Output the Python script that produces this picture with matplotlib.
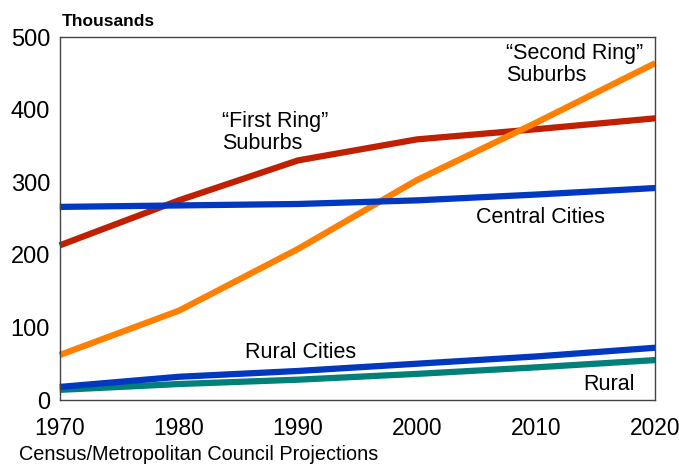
import matplotlib.pyplot as plt

plt.rcParams['font.family'] = ['Liberation Sans', 'DejaVu Sans']

years = [1970, 1980, 1990, 2000, 2010, 2020]
first_ring = [213, 275, 330, 359, 373, 388]
second_ring = [62, 123, 208, 303, 382, 464]
central_cities = [266, 268, 270, 275, 283, 292]
rural_cities = [18, 32, 40, 50, 60, 72]
rural = [14, 22, 28, 36, 45, 55]

fig = plt.figure(figsize=(6.79, 4.66), dpi=100)
ax = fig.add_axes([0.088, 0.1416, 0.877, 0.779])

lw = 4.5
ax.plot(years, first_ring, color='#C02000', lw=lw, clip_on=False, solid_capstyle='butt')
ax.plot(years, second_ring, color='#FF8000', lw=lw, clip_on=False, solid_capstyle='butt')
ax.plot(years, central_cities, color='#0038C0', lw=lw, clip_on=False, solid_capstyle='butt')
ax.plot(years, rural, color='#008078', lw=lw, clip_on=False, solid_capstyle='butt')
ax.plot(years, rural_cities, color='#0038C0', lw=lw, clip_on=False, solid_capstyle='butt')

ax.set_xlim(1970, 2020)
ax.set_ylim(0, 500)
ax.set_xticks(years)
ax.set_yticks([0, 100, 200, 300, 400, 500])
ax.tick_params(length=0, labelsize=17, pad=7)
ax.tick_params(axis='x', pad=12, labelsize=16.4)
for s in ax.spines.values():
    s.set_color('#444444')
    s.set_linewidth(1)

ts = 15.5
ax.text(1983.6, 369, '\u201cFirst Ring\u201d\nSuburbs', fontsize=ts, va='center', ha='left', multialignment='left', linespacing=1.05)
ax.text(2007.5, 462, '\u201cSecond Ring\u201d\nSuburbs', fontsize=ts, va='center', ha='left', multialignment='left', linespacing=1.05)
ax.text(2010.4, 252, 'Central Cities', fontsize=ts, va='center', ha='center')
ax.text(1990.2, 66, 'Rural Cities', fontsize=ts, va='center', ha='center')
ax.text(2018.3, 21, 'Rural', fontsize=ts, va='center', ha='right')

fig.text(0.091, 0.937, 'Thousands', fontsize=12.5, fontweight='bold', ha='left', va='bottom')
fig.text(0.028, 0.004, 'Census/Metropolitan Council Projections', fontsize=14.3, ha='left', va='bottom')

fig.savefig('out.png', dpi=100)
